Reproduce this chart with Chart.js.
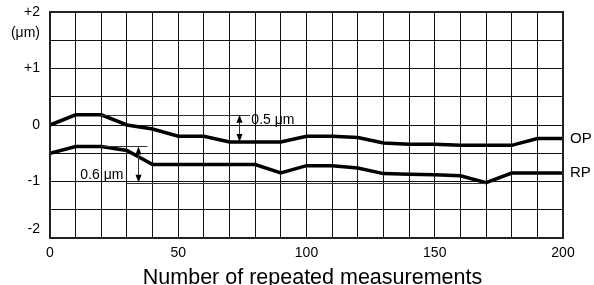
<!DOCTYPE html>
<html>
<head>
<meta charset="utf-8">
<script src="https://cdn.jsdelivr.net/npm/chart.js@4/dist/chart.umd.min.js"></script>
<style>
html,body{margin:0;padding:0;background:#fff;}
#wrap{width:594px;height:285px;position:relative;}
</style>
</head>
<body>
<div id="wrap"><canvas id="c" width="594" height="285"></canvas></div>
<script>
// ---- data ----
const measurements = [0,10,20,30,40,50,60,70,80,90,100,110,120,130,140,150,160,170,180,190,200];
const opValues = [0,0.18,0.18,0.0,-0.07,-0.2,-0.2,-0.3,-0.3,-0.3,-0.2,-0.2,-0.22,-0.32,-0.34,-0.34,-0.36,-0.36,-0.36,-0.24,-0.24];
const rpValues = [-0.5,-0.38,-0.38,-0.45,-0.7,-0.7,-0.7,-0.7,-0.7,-0.85,-0.72,-0.72,-0.76,-0.86,-0.87,-0.88,-0.9,-1.02,-0.85,-0.85,-0.85];
const seriesNames = ['OP','RP'];
const xTickValues = [0,50,100,150,200];
const xTickLabels = ['0','50','100','150','200'];
const yTickValues = [2,1,0,-1,-2];
const yTickLabels = ['+2','+1','0','-1','-2'];
const yUnitLabel = '(\u03bcm)';
const xTitle = 'Number of repeated measurements';
const opSpreadLabel = '0.5 \u03bcm';
const rpSpreadLabel = '0.6 \u03bcm';

const FONT = "'Liberation Sans', Arial, Helvetica, sans-serif";

function arrow(ctx, x, y1, y2) {
  ctx.beginPath();
  ctx.moveTo(x, y1 + 6); ctx.lineTo(x, y2 - 6); ctx.stroke();
  ctx.beginPath();
  ctx.moveTo(x, y1); ctx.lineTo(x - 3, y1 + 8); ctx.lineTo(x + 3, y1 + 8); ctx.closePath(); ctx.fill();
  ctx.beginPath();
  ctx.moveTo(x, y2); ctx.lineTo(x - 3, y2 - 8); ctx.lineTo(x + 3, y2 - 8); ctx.closePath(); ctx.fill();
}

const decor = {
  id: 'decor',
  afterDatasetsDraw(chart) {
    const ctx = chart.ctx, xs = chart.scales.x, ys = chart.scales.y, a = chart.chartArea;
    ctx.save();
    ctx.strokeStyle = '#222'; ctx.lineWidth = 2;
    ctx.strokeRect(a.left, a.top, a.right - a.left, a.bottom - a.top);

    const opMax = Math.max(...opValues);
    const rpMax = Math.max(...rpValues), rpMin = Math.min(...rpValues);
    ctx.strokeStyle = '#333'; ctx.fillStyle = '#000'; ctx.lineWidth = 1;
    let yT = Math.round(ys.getPixelForValue(opMax)) + 0.5;
    ctx.beginPath(); ctx.moveTo(xs.getPixelForValue(20), yT); ctx.lineTo(xs.getPixelForValue(78), yT); ctx.stroke();
    arrow(ctx, Math.round(xs.getPixelForValue(73.5)) + 0.5, ys.getPixelForValue(opMax), ys.getPixelForValue(-0.3));
    yT = Math.round(ys.getPixelForValue(rpMax)) + 0.5;
    ctx.beginPath(); ctx.moveTo(xs.getPixelForValue(20), yT); ctx.lineTo(xs.getPixelForValue(38), yT); ctx.stroke();
    let yB = Math.round(ys.getPixelForValue(rpMin)) + 0.5;
    ctx.beginPath(); ctx.moveTo(xs.getPixelForValue(30), yB); ctx.lineTo(xs.getPixelForValue(170), yB); ctx.stroke();
    arrow(ctx, Math.round(xs.getPixelForValue(34.5)) + 0.5, ys.getPixelForValue(rpMax), ys.getPixelForValue(rpMin));

    ctx.font = '14px ' + FONT; ctx.fillStyle = '#000';
    ctx.textBaseline = 'middle';
    ctx.textAlign = 'left';
    ctx.fillText(opSpreadLabel, xs.getPixelForValue(78.5), ys.getPixelForValue(0.09));
    ctx.textAlign = 'right';
    ctx.fillText(rpSpreadLabel, xs.getPixelForValue(28.6), ys.getPixelForValue(-0.89));

    ctx.font = '15px ' + FONT; ctx.textAlign = 'left';
    ctx.fillText(seriesNames[0], a.right + 7, ys.getPixelForValue(opValues[opValues.length - 1]));
    ctx.fillText(seriesNames[1], a.right + 7, ys.getPixelForValue(rpValues[rpValues.length - 1]));

    ctx.font = '14px ' + FONT; ctx.textAlign = 'right';
    ctx.fillText(yUnitLabel, a.left - 10, ys.getPixelForValue(2) + 21);

    ctx.font = '21.5px ' + FONT; ctx.textAlign = 'center'; ctx.textBaseline = 'alphabetic';
    ctx.fillText(xTitle, (a.left + a.right) / 2 + 6, a.bottom + 46);
    ctx.restore();
  }
};

new Chart(document.getElementById('c'), {
  type: 'line',
  data: {
    labels: measurements,
    datasets: [
      { label: seriesNames[0], data: measurements.map((m, i) => ({x: m, y: opValues[i]})) },
      { label: seriesNames[1], data: measurements.map((m, i) => ({x: m, y: rpValues[i]})) }
    ]
  },
  options: {
    responsive: false,
    animation: false,
    devicePixelRatio: 1,
    layout: { padding: { top: 12, right: 31, left: 0, bottom: 0 } },
    elements: {
      line: { borderColor: '#000', borderWidth: 3.5, tension: 0, fill: false, borderJoinStyle: 'miter' },
      point: { radius: 0, hoverRadius: 0 }
    },
    plugins: { legend: { display: false }, tooltip: { enabled: false } },
    scales: {
      x: {
        type: 'linear', min: 0, max: 200,
        afterFit(s) { s.height = 47; },
        grid: { color: '#111', lineWidth: 1, drawTicks: false },
        border: { color: '#111', width: 2 },
        ticks: {
          stepSize: 10, autoSkip: false, maxRotation: 0, padding: 7,
          color: '#000', font: { size: 14, family: FONT },
          callback(v) { const i = xTickValues.indexOf(v); return i >= 0 ? xTickLabels[i] : ''; }
        }
      },
      y: {
        type: 'linear', min: -2, max: 2,
        afterFit(s) { s.width = 50; s.paddingTop = 0; s.paddingBottom = 0; },
        grid: { color: '#111', lineWidth: 1, drawTicks: false },
        border: { color: '#111', width: 2 },
        ticks: {
          stepSize: 0.5, autoSkip: false, padding: 10,
          color: '#000', font: { size: 14, family: FONT },
          callback(v) {
            const i = yTickValues.indexOf(v);
            if (i < 0) return '';
            return v === -2 ? [yTickLabels[i], ''] : yTickLabels[i];
          }
        }
      }
    }
  },
  plugins: [decor]
});
</script>
</body>
</html>
